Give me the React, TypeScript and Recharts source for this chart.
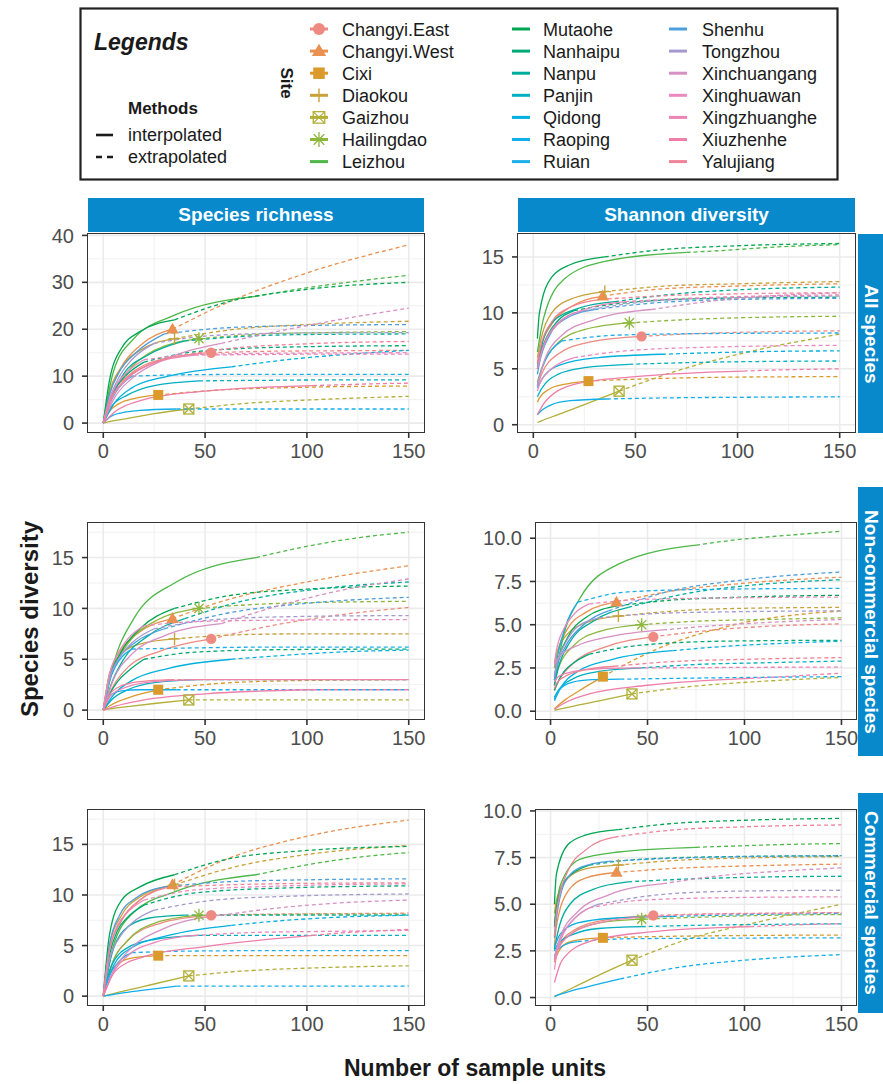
import React from "react";
import { ComposedChart, Line, XAxis, YAxis, CartesianGrid } from "recharts";

const FONT = '"Liberation Sans", Arial, Helvetica, sans-serif';

// sites, in legend order
const sites = [
  "Changyi.East", "Changyi.West", "Cixi", "Diaokou", "Gaizhou", "Hailingdao", "Leizhou",
  "Mutaohe", "Nanhaipu", "Nanpu", "Panjin", "Qidong", "Raoping", "Ruian",
  "Shenhu", "Tongzhou", "Xinchuangang", "Xinghuawan", "Xingzhuanghe", "Xiuzhenhe", "Yalujiang",
];

const siteColors = [
  "#EE8A82", "#EA9050", "#DA9A2C", "#C8A23A", "#B2AF38", "#8DB73C", "#4DB748",
  "#00A651", "#00A874", "#00AD9C", "#00AFC0", "#00B0DF", "#10AEEA", "#1CAEE8",
  "#4C9EDD", "#A599CE", "#D690C3", "#E98BC0", "#EC84B6", "#EF7EA9", "#EF8397",
];

// only the first six sites get a point symbol
const siteShapes = ["circle", "triangle", "square", "plus", "squareCross", "asterisk"];

// sample units per site: 3 rarefied steps, observed size (index 3), 2 extrapolated steps, end
const sampleUnits = [
  [4, 12, 28, 53, 80, 110, 150],
  [3, 9, 18, 34, 60, 100, 150],
  [3, 8, 15, 27, 55, 95, 150],
  [3, 9, 18, 35, 65, 100, 150],
  [4, 12, 25, 42, 70, 105, 150],
  [4, 12, 25, 47, 75, 110, 150],
  [5, 15, 35, 75, 95, 120, 150],
  [3, 9, 18, 35, 60, 100, 150],
  [3, 7, 12, 20, 45, 90, 150],
  [4, 10, 22, 40, 70, 105, 150],
  [4, 12, 25, 47, 75, 110, 150],
  [5, 14, 32, 63, 90, 115, 150],
  [3, 9, 18, 36, 65, 100, 150],
  [3, 6, 9, 14, 40, 85, 150],
  [3, 8, 16, 30, 60, 100, 150],
  [3, 8, 14, 25, 55, 95, 150],
  [5, 14, 30, 58, 85, 115, 150],
  [3, 7, 12, 20, 45, 90, 150],
  [4, 12, 25, 45, 75, 110, 150],
  [6, 20, 50, 103, 120, 135, 150],
  [3, 9, 18, 33, 60, 100, 150],
];

// first value sits at 0 sample units (richness) or 2 (Shannon), then one per sampleUnits step
const richnessAll = [
  [0, 6, 10, 13.5, 15, 15.3, 15.4, 15.5],
  [0, 6, 12, 16.5, 20, 25.5, 32, 38],
  [0, 2.5, 4.2, 5.2, 6, 7, 7.6, 7.9],
  [0, 6.5, 12, 15.5, 18, 20, 21, 21.7],
  [0, 0.4, 1, 2, 3, 4.2, 5, 5.7],
  [0, 5.5, 11, 15.5, 18, 18.9, 19.3, 19.5],
  [0, 11, 18, 23, 27, 28.5, 30, 31.5],
  [0, 9, 16, 19.5, 22, 25.7, 28.5, 30],
  [0, 4, 8, 10.5, 13, 15.2, 16.2, 16.5],
  [0, 5.5, 10.5, 14.5, 17.5, 18.5, 18.9, 19],
  [0, 3.5, 6, 8, 9, 9.1, 9.2, 9.2],
  [0, 4, 7.5, 10, 12, 13.5, 14.5, 15.5],
  [0, 1.2, 2.2, 2.7, 3, 3, 3, 3],
  [0, 4, 6.5, 8.2, 10, 10.3, 10.4, 10.4],
  [0, 6, 11, 15, 19, 20.3, 20.8, 21],
  [0, 5, 10, 13.5, 17, 18.7, 19.2, 19.3],
  [0, 5, 9.5, 13.5, 17, 19.5, 22, 24.5],
  [0, 5, 8.5, 11, 13.5, 14.6, 14.9, 15],
  [0, 5, 9.5, 12.8, 14.5, 14.6, 14.7, 14.7],
  [0, 2.5, 5, 6.8, 8, 8.2, 8.4, 8.5],
  [0, 4.5, 8.5, 11.5, 14, 15.8, 16.9, 17.4],
];

const shannonAll = [
  [3.5, 4.5, 6.3, 7.4, 7.9, 8.15, 8.3, 8.4],
  [5.5, 6.5, 9, 10.5, 11.5, 12.1, 12.4, 12.6],
  [2, 2.4, 3.2, 3.6, 3.9, 4.1, 4.25, 4.3],
  [6, 7, 10, 11.2, 11.9, 12.4, 12.6, 12.8],
  [0.2, 0.35, 0.9, 1.8, 3, 4.8, 6.5, 8.1],
  [3.8, 5, 7.3, 8.5, 9.1, 9.4, 9.6, 9.7],
  [6.5, 9.5, 13, 14.6, 15.4, 15.6, 15.9, 16.1],
  [7.7, 10, 13.2, 14.3, 15, 15.6, 16, 16.2],
  [5, 6, 8, 9.3, 10.2, 10.9, 11.3, 11.4],
  [5.2, 7, 9.3, 10.4, 11, 11.7, 12.1, 12.3],
  [2.5, 3.2, 4.5, 5.1, 5.4, 5.55, 5.65, 5.7],
  [3.3, 4.3, 5.4, 6, 6.3, 6.45, 6.55, 6.6],
  [0.9, 1.1, 1.8, 2.15, 2.3, 2.4, 2.45, 2.5],
  [3.5, 4.3, 5.8, 6.7, 7.5, 8, 8.15, 8.2],
  [4.5, 5.5, 8, 9.5, 10.3, 10.9, 11.2, 11.3],
  [5, 5.8, 8.2, 9.4, 10.2, 11, 11.35, 11.5],
  [3.5, 5.5, 8, 9.4, 10.3, 11, 11.5, 11.8],
  [3, 3.6, 4.7, 5.4, 6, 6.6, 6.95, 7.1],
  [5, 6.5, 9, 10.3, 11, 11.3, 11.5, 11.6],
  [0.9, 2.1, 3.6, 4.3, 4.8, 4.9, 4.95, 5],
  [5.5, 6.5, 9.2, 10.5, 11.2, 11.5, 11.7, 11.8],
];

const richnessNonCommercial = [
  [0, 2, 4.2, 5.8, 7, 8.2, 9.2, 10.1],
  [0, 3.5, 6, 7.7, 9, 10.8, 12.6, 14.2],
  [0, 0.4, 0.9, 1.4, 2, 2.6, 2.9, 3],
  [0, 3.5, 5.5, 6.5, 7, 7.4, 7.5, 7.5],
  [0, 0.15, 0.35, 0.65, 1, 1, 1, 1],
  [0, 3.5, 6.5, 8.7, 10, 10.4, 10.6, 10.7],
  [0, 4.5, 9, 12.5, 15, 15.9, 16.8, 17.5],
  [0, 3, 5.8, 8, 10, 11.2, 11.9, 12.2],
  [0, 1.5, 2.8, 3.8, 5, 5.7, 5.95, 6],
  [0, 2.6, 5, 7.3, 9, 10.8, 11.9, 12.6],
  [0, 1, 2, 2.7, 3, 3, 3, 3],
  [0, 1.5, 2.9, 4.1, 5, 5.4, 5.7, 5.9],
  [0, 1.4, 1.9, 2, 2, 2, 2, 2],
  [0, 2.8, 4.3, 5.2, 6, 6.1, 6.2, 6.2],
  [0, 3, 5.2, 6.7, 8, 9.5, 10.5, 11.1],
  [0, 3, 5.2, 6.6, 8, 8.9, 9.2, 9.3],
  [0, 3, 5.5, 7.3, 8.5, 10.2, 11.7, 12.9],
  [0, 3.5, 5.5, 7, 8.3, 8.7, 8.85, 8.9],
  [0, 1.5, 2.3, 2.8, 3, 3, 3, 3],
  [0, 0.4, 1, 1.6, 2, 2, 2, 2],
  [0, 1.5, 2.4, 2.8, 3, 3, 3, 3],
];

const shannonNonCommercial = [
  [1.2, 1.7, 2.8, 3.7, 4.3, 4.65, 4.9, 5.05],
  [2.5, 3.2, 4.8, 5.7, 6.3, 6.9, 7.4, 7.75],
  [0.15, 0.25, 0.7, 1.2, 2, 3.6, 5, 5.8],
  [2.5, 3.2, 4.5, 5.1, 5.5, 5.8, 5.95, 6],
  [0.05, 0.1, 0.3, 0.6, 1, 1.4, 1.7, 1.95],
  [1.8, 2.5, 3.8, 4.6, 5, 5.2, 5.3, 5.4],
  [1.5, 3.5, 6.5, 8.5, 9.6, 9.9, 10.15, 10.4],
  [1.8, 2.5, 4.3, 5.4, 6.1, 6.4, 6.6, 6.7],
  [1.2, 1.5, 2.3, 2.8, 3.3, 3.8, 4.05, 4.1],
  [1.5, 2.5, 4, 5.2, 6, 6.8, 7.3, 7.6],
  [0.8, 1.2, 1.9, 2.3, 2.5, 2.7, 2.8, 2.9],
  [0.6, 1.3, 2.3, 3, 3.5, 3.75, 3.9, 4.05],
  [0.7, 1, 1.6, 1.8, 1.85, 1.9, 1.95, 2],
  [2, 2.8, 4.3, 5.3, 6.3, 6.9, 7.05, 7.1],
  [1.8, 2.4, 3.8, 4.9, 5.8, 6.9, 7.6, 8.05],
  [2, 2.6, 4, 4.9, 5.4, 5.65, 5.75, 5.8],
  [2.7, 3.2, 3.8, 4.3, 4.7, 4.95, 5.15, 5.3],
  [2.8, 3.5, 4.8, 5.6, 6.2, 6.45, 6.55, 6.6],
  [1.7, 2, 2.3, 2.45, 2.5, 2.52, 2.54, 2.55],
  [0.1, 0.4, 1, 1.5, 1.9, 2, 2.1, 2.2],
  [1.3, 1.6, 2.1, 2.4, 2.6, 2.85, 3, 3.1],
];

const richnessCommercial = [
  [0, 3, 5.5, 7.2, 8, 8.1, 8.15, 8.2],
  [0, 4.5, 7.5, 9.5, 11, 13.5, 15.8, 17.4],
  [0, 2.2, 3.3, 3.8, 4, 4, 4, 4],
  [0, 5, 8, 9.8, 11, 12.8, 14, 14.9],
  [0, 0.2, 0.6, 1.2, 2, 2.5, 2.8, 3],
  [0, 3, 5.5, 7.2, 8, 8.05, 8.1, 8.1],
  [0, 5, 8.3, 10.3, 12, 12.8, 13.6, 14.2],
  [0, 6, 9.5, 10.8, 12, 13.5, 14.4, 14.8],
  [0, 4, 6.5, 7.8, 9, 10.2, 10.7, 10.9],
  [0, 4, 6.5, 7.7, 8, 8, 8, 8],
  [0, 3, 4.8, 5.6, 6, 6, 6, 6],
  [0, 3, 4.8, 6, 7, 7.5, 7.8, 8],
  [0, 0.1, 0.3, 0.55, 1, 1, 1, 1],
  [0, 2, 3, 3.7, 4.3, 4.45, 4.5, 4.5],
  [0, 5, 8, 9.7, 10.8, 11.3, 11.5, 11.6],
  [0, 3.5, 5.8, 7.2, 8.5, 9.5, 9.9, 10.1],
  [0, 2.5, 4.8, 6.7, 8, 8.7, 9.2, 9.5],
  [0, 4.5, 7, 8.3, 9.5, 10.5, 10.9, 11.1],
  [0, 2, 4, 5.3, 6, 6.3, 6.4, 6.5],
  [0, 2.5, 3.9, 4.9, 6, 6.3, 6.45, 6.6],
  [0, 4.5, 7.5, 9.5, 10.8, 11, 11.15, 11.2],
];

const shannonCommercial = [
  [2, 2.7, 3.6, 4.15, 4.4, 4.48, 4.52, 4.55],
  [2.8, 3.8, 5.7, 6.4, 6.7, 6.9, 7.05, 7.15],
  [1.9, 2.2, 2.9, 3.1, 3.2, 3.27, 3.32, 3.35],
  [4.5, 5.2, 6.4, 6.9, 7.1, 7.35, 7.48, 7.55],
  [0.05, 0.15, 0.55, 1.2, 2, 3.1, 4, 5],
  [2, 2.7, 3.5, 4, 4.2, 4.3, 4.4, 4.45],
  [4, 6, 7.4, 7.8, 8.05, 8.12, 8.2, 8.25],
  [5, 6.6, 8.2, 8.7, 9, 9.3, 9.5, 9.6],
  [3.8, 4.8, 6.2, 6.7, 7.1, 7.4, 7.55, 7.6],
  [2.6, 3.6, 5, 5.8, 6.2, 6.35, 6.45, 6.5],
  [2.5, 2.9, 3.4, 3.7, 3.8, 3.87, 3.92, 3.95],
  [2.7, 3.4, 4, 4.25, 4.35, 4.42, 4.47, 4.5],
  [0.05, 0.1, 0.3, 0.55, 1, 1.6, 2, 2.3],
  [2.2, 2.45, 2.75, 2.9, 3, 3.15, 3.18, 3.2],
  [3.2, 4.2, 6.3, 7, 7.3, 7.45, 7.55, 7.6],
  [2.1, 2.6, 3.7, 4.4, 5, 5.5, 5.7, 5.75],
  [2.1, 3.2, 4.6, 5.5, 6.1, 6.5, 6.75, 6.95],
  [1.5, 2.2, 3.5, 4.2, 4.8, 5.2, 5.35, 5.4],
  [2, 2.6, 3.5, 4, 4.3, 4.45, 4.5, 4.55],
  [0.8, 2, 3, 3.5, 3.8, 3.87, 3.92, 3.95],
  [3.3, 4.5, 6.8, 7.9, 8.6, 8.95, 9.15, 9.25],
];

const xTicks = [0, 50, 100, 150];
const xMinor = [25, 75, 125];

const OBS = 4; // index of the observed sample size in a curve

interface PanelSpec {
  values: number[][];
  startX: number;
  domain: [number, number];
  ticks: number[];
  minor: number[];
  digits: number;
  left: number;
  top: number;
  width: number;
  height: number;
}

const panels: PanelSpec[] = [
  { values: richnessAll, startX: 0, domain: [-1.9, 40.3], ticks: [0, 10, 20, 30, 40], minor: [5, 15, 25, 35], digits: 0, left: 88, top: 234, width: 336, height: 198 },
  { values: shannonAll, startX: 2, domain: [-0.65, 17.05], ticks: [0, 5, 10, 15], minor: [2.5, 7.5, 12.5], digits: 0, left: 518, top: 234, width: 337, height: 198 },
  { values: richnessNonCommercial, startX: 0, domain: [-0.875, 18.4], ticks: [0, 5, 10, 15], minor: [2.5, 7.5, 12.5, 17.5], digits: 0, left: 88, top: 523, width: 336, height: 196 },
  { values: shannonNonCommercial, startX: 2, domain: [-0.45, 10.88], ticks: [0, 2.5, 5, 7.5, 10], minor: [1.25, 3.75, 6.25, 8.75], digits: 1, left: 536, top: 523, width: 320, height: 196 },
  { values: richnessCommercial, startX: 0, domain: [-0.875, 18.4], ticks: [0, 5, 10, 15], minor: [2.5, 7.5, 12.5, 17.5], digits: 0, left: 88, top: 810, width: 336, height: 195 },
  { values: shannonCommercial, startX: 2, domain: [-0.4, 10.05], ticks: [0, 2.5, 5, 7.5, 10], minor: [1.25, 3.75, 6.25, 8.75], digits: 1, left: 536, top: 810, width: 320, height: 195 },
];

const STRIP = "#0789CC";

// point symbols, ggplot shapes 16, 17, 15, 3, 7, 8
const Glyph = ({ shape, cx, cy, color, s = 1 }: { shape: string; cx: number; cy: number; color: string; s?: number }) => {
  const r = 5.2 * s;
  if (shape === "circle") return <circle cx={cx} cy={cy} r={r} fill={color} />;
  if (shape === "triangle")
    return <polygon points={`${cx},${cy - 6.5 * s} ${cx + 6.2 * s},${cy + 4.3 * s} ${cx - 6.2 * s},${cy + 4.3 * s}`} fill={color} />;
  if (shape === "square") return <rect x={cx - 5 * s} y={cy - 5 * s} width={10 * s} height={10 * s} fill={color} />;
  if (shape === "plus")
    return <path d={`M${cx - 6 * s},${cy}H${cx + 6 * s}M${cx},${cy - 6 * s}V${cy + 6 * s}`} stroke={color} strokeWidth={1.4} fill="none" />;
  if (shape === "squareCross")
    return (
      <g stroke={color} strokeWidth={1.3} fill="none">
        <rect x={cx - 5 * s} y={cy - 5 * s} width={10 * s} height={10 * s} />
        <path d={`M${cx - 5 * s},${cy - 5 * s}L${cx + 5 * s},${cy + 5 * s}M${cx + 5 * s},${cy - 5 * s}L${cx - 5 * s},${cy + 5 * s}`} />
      </g>
    );
  if (shape === "asterisk") {
    const a = 6.5 * s;
    const b = 4.6 * s;
    return (
      <path
        d={`M${cx - a},${cy}H${cx + a}M${cx},${cy - a}V${cy + a}M${cx - b},${cy - b}L${cx + b},${cy + b}M${cx + b},${cy - b}L${cx - b},${cy + b}`}
        stroke={color}
        strokeWidth={1.3}
        fill="none"
      />
    );
  }
  return null;
};

const Y_AXIS_W = 60;
const X_AXIS_H = 40;
const PAD_TOP = 14;
const PAD_RIGHT = 22;

const Panel = ({ p }: { p: PanelSpec }) => {
  const tickStyle = { fontSize: 20, fill: "#4D4D4D", fontFamily: FONT };
  const curves = sites.map((site, i) => {
    const xs = [p.startX, ...sampleUnits[i]];
    return xs.map((x, j) => ({ x, y: p.values[i][j] }));
  });
  return (
    <div style={{ position: "absolute", left: p.left - Y_AXIS_W, top: p.top - PAD_TOP }}>
      <ComposedChart
        width={p.width + Y_AXIS_W + PAD_RIGHT}
        height={p.height + X_AXIS_H + PAD_TOP}
        margin={{ top: PAD_TOP, right: PAD_RIGHT, bottom: 0, left: 0 }}
      >
        <XAxis
          type="number"
          dataKey="x"
          domain={[-7.5, 157.5]}
          ticks={xTicks}
          interval={0}
          allowDataOverflow
          height={X_AXIS_H}
          axisLine={false}
          tickSize={6}
          tickMargin={6}
          tickLine={{ stroke: "#333", strokeWidth: 1.6 }}
          tick={tickStyle}
        />
        <YAxis
          type="number"
          dataKey="y"
          domain={p.domain}
          ticks={p.ticks}
          interval={0}
          allowDataOverflow
          width={Y_AXIS_W}
          axisLine={false}
          tickSize={6}
          tickMargin={8}
          tickLine={{ stroke: "#333", strokeWidth: 1.6 }}
          tick={tickStyle}
          tickFormatter={(v: number) => v.toFixed(p.digits)}
        />
        <CartesianGrid verticalValues={xMinor} horizontalValues={p.minor} stroke="#EDEDED" strokeWidth={0.8} />
        <CartesianGrid verticalValues={xTicks} horizontalValues={p.ticks} stroke="#EBEBEB" strokeWidth={1.6} />
        {curves.flatMap((pts, i) => [
          <Line
            key={`${sites[i]}-int`}
            data={pts.slice(0, OBS + 1)}
            dataKey="y"
            type="monotone"
            stroke={siteColors[i]}
            strokeWidth={1.3}
            dot={false}
            activeDot={false}
            isAnimationActive={false}
          />,
          <Line
            key={`${sites[i]}-ext`}
            data={pts.slice(OBS)}
            dataKey="y"
            type="monotone"
            stroke={siteColors[i]}
            strokeWidth={1.3}
            strokeDasharray="4 3"
            dot={false}
            activeDot={false}
            isAnimationActive={false}
          />,
        ])}
        {siteShapes.map((shape, i) => (
          <Line
            key={`${sites[i]}-obs`}
            data={[curves[i][OBS]]}
            dataKey="y"
            stroke="none"
            isAnimationActive={false}
            activeDot={false}
            dot={(d: any) => <Glyph key={`g-${i}`} shape={shape} cx={d.cx} cy={d.cy} color={siteColors[i]} />}
          />
        ))}
      </ComposedChart>
      <div
        style={{
          position: "absolute",
          left: Y_AXIS_W - 1,
          top: PAD_TOP - 1,
          width: p.width + 2,
          height: p.height + 2,
          border: "1.8px solid #333",
          boxSizing: "border-box",
          pointerEvents: "none",
        }}
      />
    </div>
  );
};

const Legend = () => {
  const rowY = (k: number) => 22 + k * 22.1;
  const cols = [
    { glyph: 240, text: 263 },
    { glyph: 442, text: 464 },
    { glyph: 599, text: 623 },
  ];
  return (
    <svg width={760} height={174} style={{ position: "absolute", left: 79, top: 7 }} fontFamily={FONT}>
      <rect x={1.5} y={1.5} width={757} height={171} fill="#fff" stroke="#222" strokeWidth={2.2} />
      <text x={15} y={43} fontSize={23} fontWeight="bold" fontStyle="italic" fill="#1A1A1A">Legends</text>
      <text x={49} y={107} fontSize={17} fontWeight="bold" fill="#1A1A1A">Methods</text>
      <line x1={17} x2={34} y1={128} y2={128} stroke="#1A1A1A" strokeWidth={2.6} />
      <line x1={17} x2={34} y1={150} y2={150} stroke="#1A1A1A" strokeWidth={2.6} strokeDasharray="6 5" />
      <text x={49} y={134} fontSize={18} fill="#1A1A1A">interpolated</text>
      <text x={49} y={156} fontSize={18} fill="#1A1A1A">extrapolated</text>
      <text transform="translate(202,76) rotate(90)" textAnchor="middle" fontSize={17} fontWeight="bold" fill="#1A1A1A">Site</text>
      {sites.map((site, i) => {
        const c = cols[Math.floor(i / 7)];
        const y = rowY(i % 7);
        return (
          <g key={site}>
            <line x1={c.glyph - 9} x2={c.glyph + 9} y1={y} y2={y} stroke={siteColors[i]} strokeWidth={3} />
            {i < siteShapes.length && <Glyph shape={siteShapes[i]} cx={c.glyph} cy={y} color={siteColors[i]} s={1.15} />}
            <text x={c.text} y={y + 6.5} fontSize={18} fill="#1A1A1A">{site}</text>
          </g>
        );
      })}
    </svg>
  );
};

const stripText: React.CSSProperties = {
  color: "#fff",
  fontWeight: "bold",
  fontSize: 19,
  fontFamily: FONT,
  whiteSpace: "nowrap",
};

const TopStrip = ({ label, left, width }: { label: string; left: number; width: number }) => (
  <div
    style={{
      position: "absolute",
      left,
      top: 198,
      width,
      height: 34,
      background: STRIP,
      display: "flex",
      alignItems: "center",
      justifyContent: "center",
      ...stripText,
    }}
  >
    {label}
  </div>
);

const SideStrip = ({ label, top, height }: { label: string; top: number; height: number }) => (
  <div style={{ position: "absolute", left: 858, top, width: 26, height, background: STRIP }}>
    <div
      style={{
        position: "absolute",
        left: 13,
        top: height / 2,
        transform: "translate(-50%, -50%) rotate(90deg)",
        ...stripText,
      }}
    >
      {label}
    </div>
  </div>
);

const App = () => (
  <div
    style={{
      position: "absolute",
      left: 0,
      top: 0,
      width: 883,
      height: 1084,
      background: "#fff",
      fontFamily: FONT,
      overflow: "hidden",
    }}
  >
    <Legend />
    <TopStrip label="Species richness" left={88} width={336} />
    <TopStrip label="Shannon diversity" left={518} width={337} />
    {panels.map((p, k) => (
      <Panel key={k} p={p} />
    ))}
    <SideStrip label="All species" top={234} height={199} />
    <SideStrip label="Non-commercial species" top={487} height={269} />
    <SideStrip label="Commercial species" top={793} height={220} />
    <div
      style={{
        position: "absolute",
        left: 30,
        top: 619,
        transform: "translate(-50%, -50%) rotate(-90deg)",
        fontSize: 24,
        fontWeight: "bold",
        color: "#1A1A1A",
        whiteSpace: "nowrap",
      }}
    >
      Species diversity
    </div>
    <div
      style={{
        position: "absolute",
        left: 475,
        top: 1068,
        transform: "translate(-50%, -50%)",
        fontSize: 23,
        fontWeight: "bold",
        color: "#1A1A1A",
        whiteSpace: "nowrap",
      }}
    >
      Number of sample units
    </div>
  </div>
);

export default App;
